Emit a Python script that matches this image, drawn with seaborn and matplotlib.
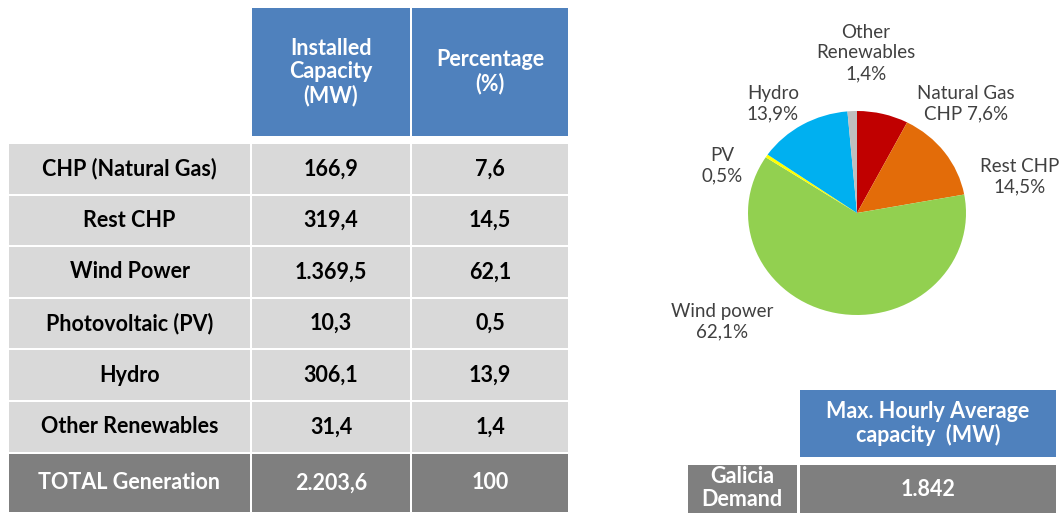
import matplotlib.pyplot as plt
import seaborn as sns
from matplotlib.patches import Rectangle

# table data
sources = ["CHP (Natural Gas)", "Rest CHP", "Wind Power", "Photovoltaic (PV)",
           "Hydro", "Other Renewables"]
capacity_mw = ["166,9", "319,4", "1.369,5", "10,3", "306,1", "31,4"]
percentage = ["7,6", "14,5", "62,1", "0,5", "13,9", "1,4"]
total_row = ["TOTAL Generation", "2.203,6", "100"]
header_cols = ["Installed\nCapacity\n(MW)", "Percentage\n(%)"]

# pie data (clockwise from top)
pie_labels = ["Natural Gas\nCHP 7,6%", "Rest CHP\n14,5%", "Wind power\n62,1%",
              "PV\n0,5%", "Hydro\n13,9%", "Other\nRenewables\n1,4%"]
pie_shares = [7.6, 14.5, 62.1, 0.5, 13.9, 1.4]
pie_colors = ["#C00000", "#E36C09", "#92D050", "#FFFF00", "#00B0F0", "#BFBFBF"]

# demand table
demand_header = "Max. Hourly Average\ncapacity  (MW)"
demand_label = "Galicia\nDemand"
demand_value = "1.842"

BLUE = "#4F81BD"
LIGHT = "#D9D9D9"
DARK = "#7F7F7F"

sns.set_theme(style="white")
plt.rcParams["font.family"] = ["Lato", "DejaVu Sans"]

W, H = 1061, 513
fig = plt.figure(figsize=(W / 100, H / 100), dpi=100)
ax = fig.add_axes([0, 0, 1, 1])
ax.set_xlim(0, W)
ax.set_ylim(H, 0)
ax.axis("off")


def cell(x0, x1, y0, y1, color, text, txt_color, size=15.5, weight="bold", ls=1.15):
    ax.add_patch(Rectangle((x0, y0), x1 - x0, y1 - y0, facecolor=color, edgecolor="none"))
    ax.text((x0 + x1) / 2, (y0 + y1) / 2, text, ha="center", va="center",
            color=txt_color, fontsize=size, fontweight=weight, linespacing=ls)


# left table
col_edges = [8, 251, 411, 569]
gap = 1
header_top, header_bot = 8, 136
for j, h in enumerate(header_cols):
    cell(col_edges[j + 1] + gap, col_edges[j + 2] - gap, header_top, header_bot,
         BLUE, h, "white")

body_top, row_h = 143, 51.6
for i, row in enumerate(zip(sources, capacity_mw, percentage)):
    y0 = body_top + i * row_h
    for j, val in enumerate(row):
        cell(col_edges[j] + gap, col_edges[j + 1] - gap, y0 + gap, y0 + row_h - gap,
             LIGHT, val, "black")

total_top = body_top + len(sources) * row_h + 1
for j, val in enumerate(total_row):
    cell(col_edges[j] + gap, col_edges[j + 1] - gap, total_top, 512,
         DARK, val, "white")

# pie chart (source picture is slightly stretched horizontally)
cx, cy, rx, ry = 857, 213, 109, 102
pax = fig.add_axes([(cx - rx) / W, (H - cy - ry) / H, 2 * rx / W, 2 * ry / H])
pax.pie(pie_shares, colors=pie_colors, startangle=90, counterclock=False,
        wedgeprops=dict(linewidth=0))
pax.set_aspect("auto")
pax.set_xlim(-1, 1)
pax.set_ylim(-1, 1)

label_pos = [(966, 104), (1020, 177), (722, 322), (722, 166), (773, 104), (866, 53)]
for lab, (lx, ly) in zip(pie_labels, label_pos):
    ax.text(lx, ly, lab, ha="center", va="center", fontsize=13.5,
            color="#404040", linespacing=1.25)

# demand table
cell(800, 1056, 390, 457, BLUE, demand_header, "white")
cell(688, 797, 465, 513, DARK, "", "white")
ax.text(742, 488, demand_label, ha="center", va="center", color="white",
        fontsize=15.5, fontweight="bold", linespacing=1.1)
cell(800, 1056, 465, 513, DARK, demand_value, "white")

fig.savefig("out.png", dpi=100)
